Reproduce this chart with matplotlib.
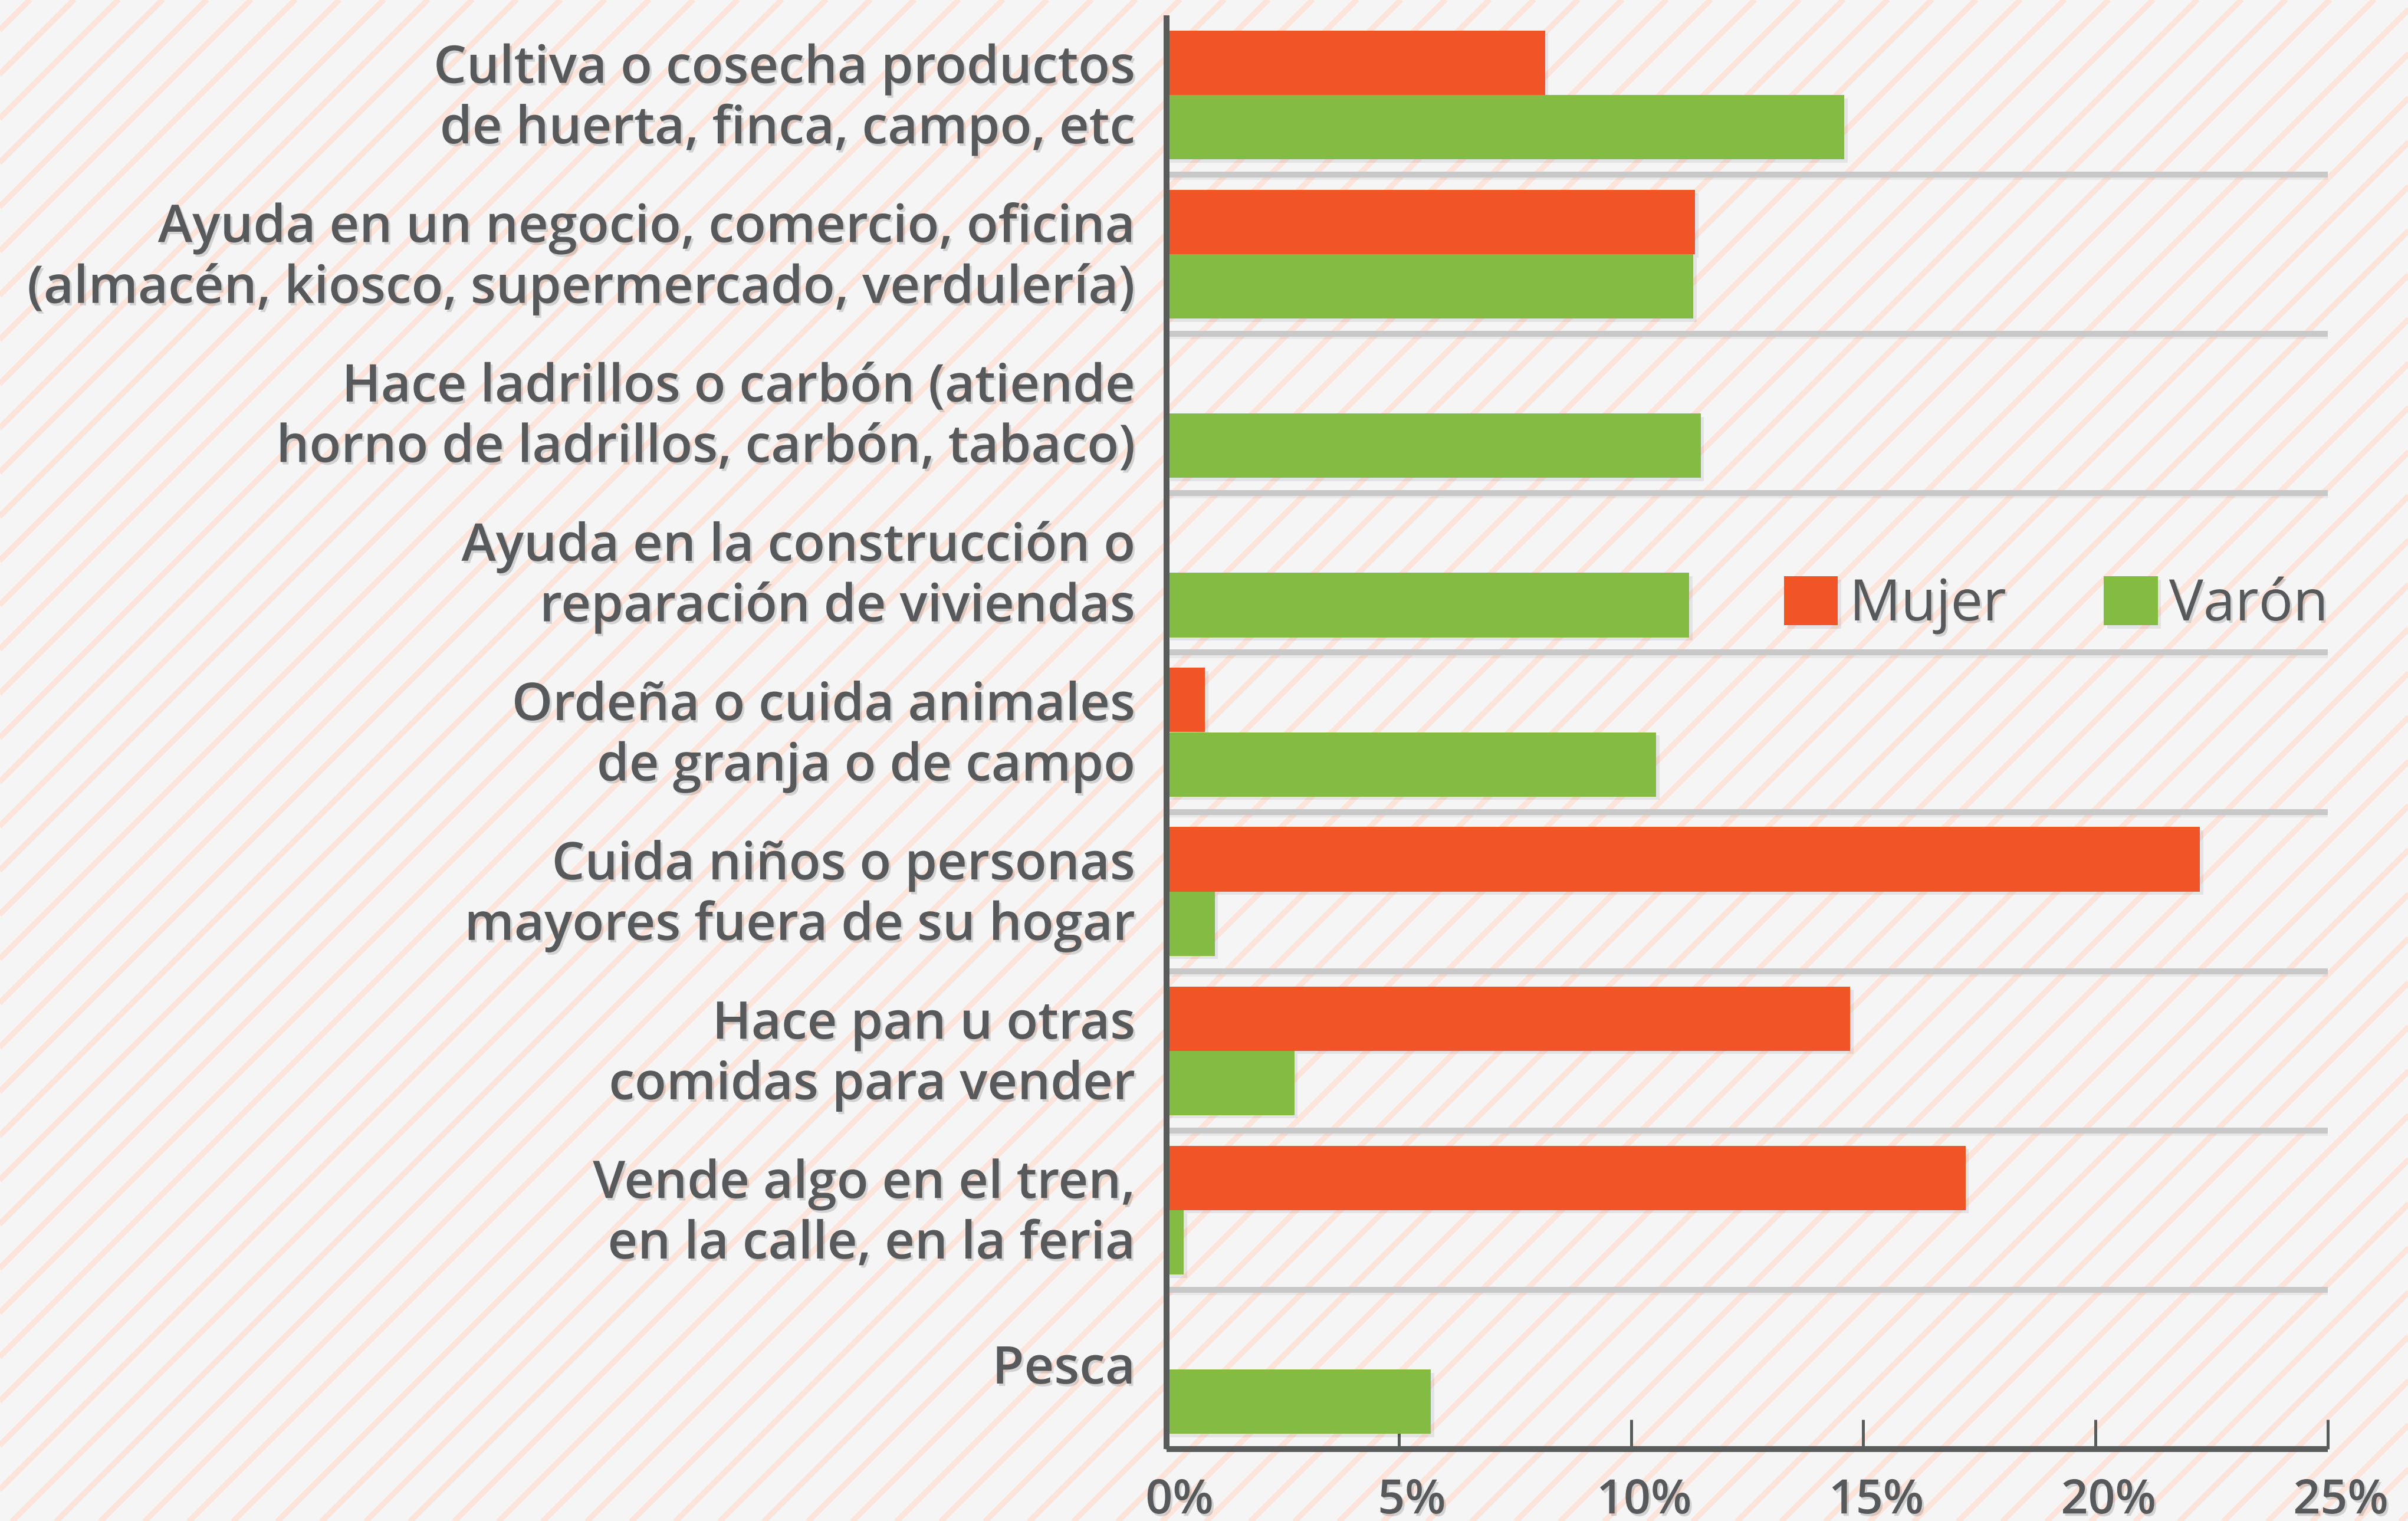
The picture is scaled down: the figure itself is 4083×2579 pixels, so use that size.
import matplotlib
matplotlib.use("Agg")
import matplotlib.pyplot as plt
import matplotlib.patheffects as pe
from matplotlib.transforms import ScaledTranslation

categories = [
	"Cultiva o cosecha productos\nde huerta, finca, campo, etc",
	"Ayuda en un negocio, comercio, oficina\n(almacén, kiosco, supermercado, verdulería)",
	"Hace ladrillos o carbón (atiende\nhorno de ladrillos, carbón, tabaco)",
	"Ayuda en la construcción o\nreparación de viviendas",
	"Ordeña o cuida animales\nde granja o de campo",
	"Cuida niños o personas\nmayores fuera de su hogar",
	"Hace pan u otras\ncomidas para vender",
	"Vende algo en el tren,\nen la calle, en la feria",
	"Pesca",
]
mujer = [8.15, 11.38, 0, 0, 0.83, 22.25, 14.72, 17.2, 0]
varon = [14.59, 11.34, 11.5, 11.25, 10.54, 1.04, 2.75, 0.37, 5.69]
x_ticks = [0, 5, 10, 15, 20, 25]
x_tick_labels = ["0%", "5%", "10%", "15%", "20%", "25%"]

W, H, DPI = 4083, 2579, 100
bg_color = "#f5f5f5"
stripe_color = "#fde4da"
text_color = "#58595b"
axis_color = "#5a5c5b"
grid_color = "#c8c8c8"
mujer_color = "#f05427"
varon_color = "#83bb43"

plt.rcParams["font.family"] = ["Open Sans", "DejaVu Sans"]

fig = plt.figure(figsize=(W / DPI, H / DPI), dpi=DPI)
fig.patch.set_facecolor(bg_color)

# diagonal stripes over the whole background, in pixel units
bg = fig.add_axes([0, 0, 1, 1], zorder=0)
bg.set_xlim(0, W)
bg.set_ylim(0, H)
bg.axis("off")
c = 50
while c < W + H + 100:
	bg.plot([-100, W + 100], [-100 + H - c, W + 100 + H - c], color=stripe_color, lw=6.8,
		solid_capstyle="butt")
	c += 75

ax = fig.add_axes([1978 / W, 1 - 2457 / H, (3947 - 1978) / W, (2457 - 26) / H], zorder=1)
ax.set_facecolor("none")

y = list(range(len(categories)))
bar_h = 0.404
bar_shadow = [pe.SimplePatchShadow(offset=(4, -4), shadow_rgbFace="k", alpha=0.07), pe.Normal()]
bars_m = ax.barh([i - bar_h / 2 for i in y], mujer, height=bar_h, color=mujer_color,
	label="Mujer", zorder=3)
bars_v = ax.barh([i + bar_h / 2 for i in y], varon, height=bar_h, color=varon_color,
	label="Varón", zorder=3)
for b in list(bars_m) + list(bars_v):
	if b.get_width() > 0:
		b.set_path_effects(bar_shadow)

# separators between categories
line_shadow = [pe.SimpleLineShadow(offset=(0, -3), shadow_color="k", alpha=0.05), pe.Normal()]
ax.hlines([i + 0.5 for i in y[:-1]], 0, 25, color=grid_color, lw=7.2, zorder=2,
	path_effects=line_shadow)

ax.set_xlim(0, 25)
ax.set_ylim(len(categories) - 0.5, -0.5)

for side in ["top", "right"]:
	ax.spines[side].set_visible(False)
for side in ["left", "bottom"]:
	ax.spines[side].set_color(axis_color)
	ax.spines[side].set_linewidth(7.2)
	ax.spines[side].set_zorder(4)
	ax.spines[side].set_capstyle("butt")

text_shadow = [pe.withSimplePatchShadow(offset=(2.5, -3), shadow_rgbFace="k", alpha=0.14)]

ax.set_yticks(y)
ax.set_yticklabels(categories)
ax.tick_params(axis="y", length=0, pad=38)
lift = ScaledTranslation(0, 10 / DPI, fig.dpi_scale_trans)
for lbl in ax.get_yticklabels():
	lbl.set_fontsize(63.5)
	lbl.set_fontweight("semibold")
	lbl.set_color(text_color)
	lbl.set_linespacing(1.2)
	lbl.set_multialignment("right")
	lbl.set_transform(lbl.get_transform() + lift)
	lbl.set_path_effects(text_shadow)

ax.set_xticks(x_ticks)
ax.set_xticklabels(x_tick_labels)
ax.tick_params(axis="x", direction="in", length=36, width=3.6, color=axis_color, pad=34)
shift = ScaledTranslation(22 / DPI, 0, fig.dpi_scale_trans)
for lbl in ax.get_xticklabels():
	lbl.set_fontsize(58)
	lbl.set_fontweight("semibold")
	lbl.set_color(text_color)
	lbl.set_transform(lbl.get_transform() + shift)
	lbl.set_path_effects(text_shadow)

leg = fig.legend(handles=[bars_m, bars_v], loc="center left",
	bbox_to_anchor=(3025 / W, 1 - 1026 / H), ncol=2, frameon=False,
	prop={"size": 70, "weight": "medium"},
	handlelength=0.94, handleheight=0.94, handletextpad=0.2, columnspacing=1.7,
	borderpad=0, borderaxespad=0)
for t in leg.get_texts():
	t.set_color(text_color)
	t.set_path_effects(text_shadow)

fig.savefig("out.png", dpi=DPI, facecolor=bg_color)
